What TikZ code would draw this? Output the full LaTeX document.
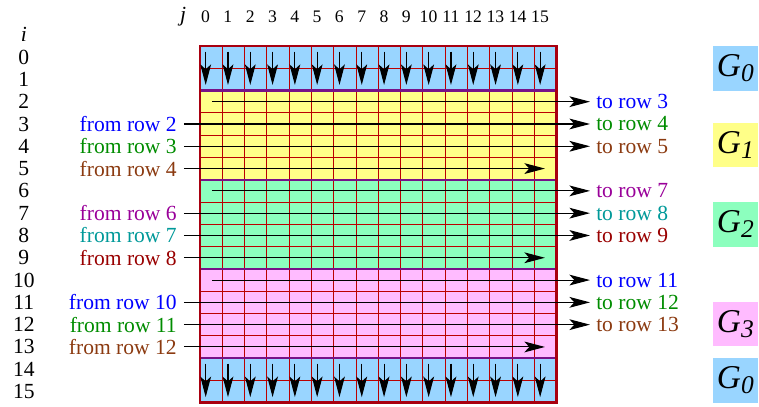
\documentclass[tikz,border=0pt]{standalone}
\usepackage{fontspec}
\setmainfont{Liberation Serif}
\usepackage{xcolor}
\usepackage{tikz}
\usetikzlibrary{arrows.meta,positioning}
\definecolor{grpBlue}{HTML}{99D5FF}
\definecolor{grpYellow}{HTML}{FFFF88}
\definecolor{grpGreen}{HTML}{8CFFBE}
\definecolor{grpPink}{HTML}{FFBBFF}
\definecolor{gridRed}{HTML}{BB0000}
\definecolor{edgeRed}{HTML}{A80010}
\definecolor{sepPurple}{HTML}{771188}
\definecolor{rowBlue}{HTML}{0000FF}
\definecolor{rowGreen}{HTML}{008C00}
\definecolor{rowBrown}{HTML}{8B3A10}
\definecolor{rowPurple}{HTML}{990099}
\definecolor{rowTeal}{HTML}{009999}
\definecolor{rowRed}{HTML}{990000}

\begin{document}
\begin{tikzpicture}[
  x=0.4cm, y=-0.4cm,
  every node/.style={font=\fontsize{11}{13}\selectfont},
  idxlab/.style={inner sep=0pt},
  collab/.style={inner sep=0pt, font=\fontsize{9}{11}\selectfont},
  fromlab/.style={anchor=east, inner sep=3.5pt},
  tolab/.style={anchor=west, inner sep=3pt},
  grpbox/.style={minimum size=22.9pt, inner sep=0pt, font=\fontsize{17}{20}\selectfont\itshape},
  gridline/.style={gridRed, line width=0.5pt},
  sepline/.style={sepPurple, line width=1.2pt},
  harrow/.style={-{Stealth[length=10.5pt,width=5.5pt,inset=2.5pt]}, line width=0.55pt, black},
  varrow/.style={-{Stealth[length=10.5pt,width=5.5pt,inset=2.5pt]}, line width=0.55pt, black}
]
  \useasboundingbox (-8.97,-2.06) rectangle (25.07,16.19);

  % group colours
  \fill[grpBlue]   (0,0)  rectangle (16,2);
  \fill[grpYellow] (0,2)  rectangle (16,6);
  \fill[grpGreen]  (0,6)  rectangle (16,10);
  \fill[grpPink]   (0,10) rectangle (16,14);
  \fill[grpBlue]   (0,14) rectangle (16,16);
  \foreach \k in {1,...,15} {
    \draw[gridline] (\k,0) -- (\k,16);
    \draw[gridline] (0,\k) -- (16,\k);
  }
  \foreach \r in {2,6,10,14}
    \draw[sepline] (0,\r) -- (16,\r);
  \draw[edgeRed, line width=1.3pt] (0,0) rectangle (16,16);

  % indices
  \node[idxlab] (ilab) at (-7.9,-0.5) {\itshape i};
  \node[idxlab] (jlab) at (-0.76,-1.3) {\itshape j};
  \foreach \r in {0,...,15}
    \node[idxlab] (i\r) at (-7.9,\r+0.5) {\r};
  \foreach \c in {0,...,15}
    \node[collab] (j\c) at (\c+0.25,-1.3) {\c};

  % copies down the boundary rows
  \foreach \c in {0,...,15} {
    \coordinate (top\c) at (\c+0.255,0.25);
    \coordinate (bot\c) at (\c+0.255,1.75);
    \draw[varrow] (top\c) -- (bot\c);
    \coordinate (ltop\c) at (\c+0.255,14.25);
    \coordinate (lbot\c) at (\c+0.255,15.75);
    \draw[varrow] (ltop\c) -- (lbot\c);
  }

  % row passes inside each group
  \foreach \g/\ca/\cb/\cc in {2/rowBlue/rowGreen/rowBrown, 6/rowPurple/rowTeal/rowRed, 10/rowBlue/rowGreen/rowBrown} {
    \pgfmathtruncatemacro\ra{\g+1}
    \pgfmathtruncatemacro\rb{\g+2}
    \pgfmathtruncatemacro\rc{\g+3}
    \node[tolab, text=\ca] (to\g)  at (17.49,\g+0.5)  {to row \ra};
    \node[tolab, text=\cb] (to\ra) at (17.49,\ra+0.5) {to row \rb};
    \node[tolab, text=\cc] (to\rb) at (17.49,\rb+0.5) {to row \rc};
    \node[fromlab, text=\ca] (from\ra) at (-0.72,\ra+0.5) {from row \g};
    \node[fromlab, text=\cb] (from\rb) at (-0.72,\rb+0.5) {from row \ra};
    \node[fromlab, text=\cc] (from\rc) at (-0.72,\rc+0.5) {from row \rb};
    \coordinate (start\g) at (0.53,\g+0.5);
    \coordinate (stop\rc) at (15.47,\rc+0.5);
    \draw[harrow] (start\g) -- (to\g.west);
    \draw[harrow] (from\ra.east) -- (to\ra.west);
    \draw[harrow] (from\rb.east) -- (to\rb.west);
    \draw[harrow] (from\rc.east) -- (stop\rc);
  }

  % group tags
  \node[grpbox, fill=grpBlue]   (gA) at (24.01,1.01)  {G\raisebox{-2.5pt}{\fontsize{13}{13}\selectfont 0}};
  \node[grpbox, fill=grpYellow] (gB) at (24.01,4.44)  {G\raisebox{-2.5pt}{\fontsize{13}{13}\selectfont 1}};
  \node[grpbox, fill=grpGreen]  (gC) at (24.01,8.0)   {G\raisebox{-2.5pt}{\fontsize{13}{13}\selectfont 2}};
  \node[grpbox, fill=grpPink]   (gD) at (24.01,12.47) {G\raisebox{-2.5pt}{\fontsize{13}{13}\selectfont 3}};
  \node[grpbox, fill=grpBlue]   (gE) at (24.01,15.0)  {G\raisebox{-2.5pt}{\fontsize{13}{13}\selectfont 0}};
\end{tikzpicture}
\end{document}
